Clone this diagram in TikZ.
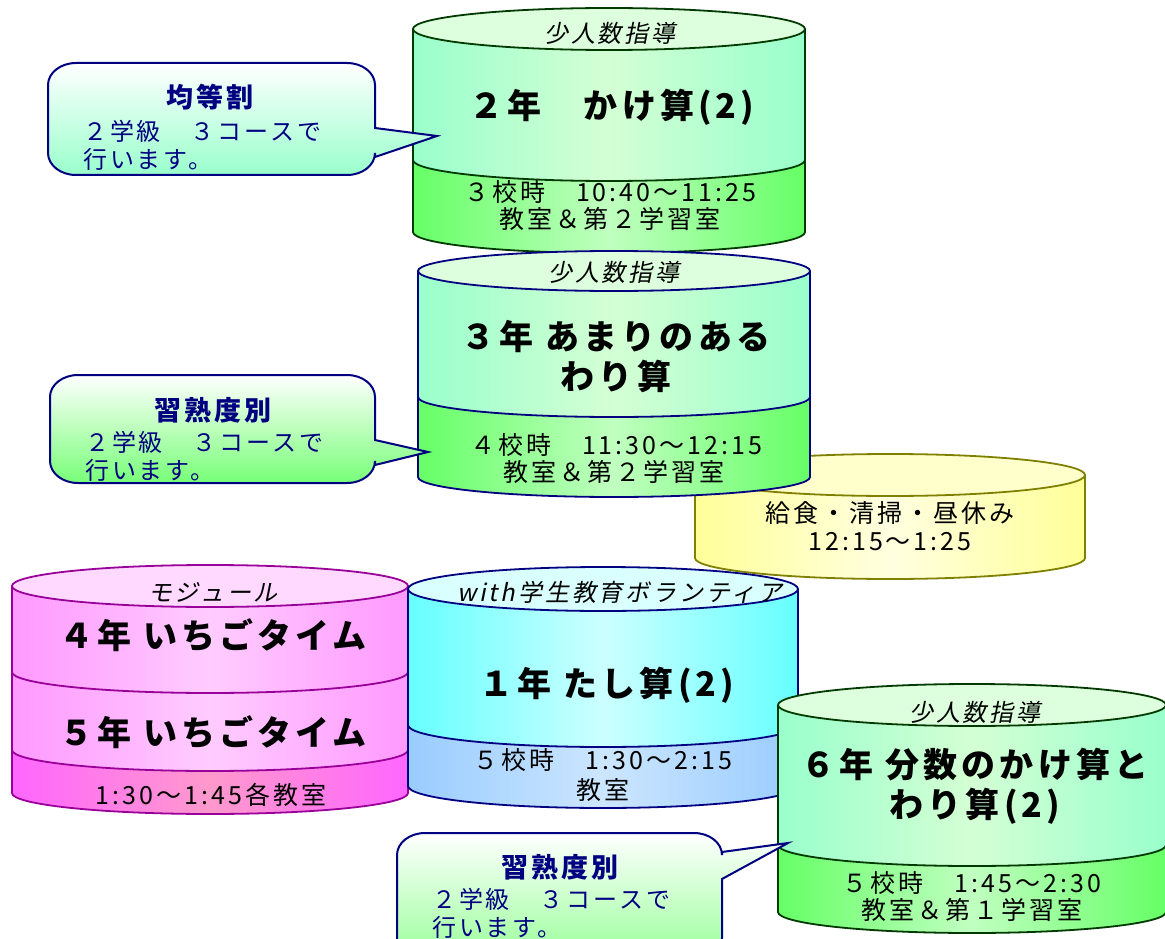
\documentclass[tikz,border=0pt]{standalone}
\usepackage{fontspec}
\setmainfont[LetterSpace=12]{Noto Sans CJK JP}
\newfontfamily\jpit[FakeSlant=0.2,LetterSpace=12]{Noto Sans CJK JP}
\definecolor{gOut}{HTML}{003A00}
\definecolor{nav}{HTML}{000080}
\definecolor{gMidE}{HTML}{99FFCC}
\definecolor{gMidC}{HTML}{D4FFD4}
\definecolor{gTop}{HTML}{DDFFDD}
\definecolor{gBotE}{HTML}{66FF66}
\definecolor{gBotC}{HTML}{C0FFC0}
\definecolor{yOut}{HTML}{808000}
\definecolor{yE}{HTML}{FFFF99}
\definecolor{yC}{HTML}{FFFFE0}
\definecolor{yTop}{HTML}{FFFFCC}
\definecolor{pOut}{HTML}{990099}
\definecolor{pE}{HTML}{FF99FF}
\definecolor{pC}{HTML}{FFCCFF}
\definecolor{pTop}{HTML}{FFD9FF}
\definecolor{pbE}{HTML}{FF66FF}
\definecolor{pbC}{HTML}{FF99CC}
\definecolor{cE}{HTML}{66FFFF}
\definecolor{cC}{HTML}{CCFFFF}
\definecolor{cTop}{HTML}{D9FFFF}
\definecolor{cbE}{HTML}{99CCFF}
\definecolor{cbC}{HTML}{CCE6FF}
\definecolor{k1}{HTML}{99FFCC}
\definecolor{k2}{HTML}{77FF77}
\definecolor{k3}{HTML}{99FF99}
\newcommand\cylband[6]{\path[#6] ({#1-#2},#4) -- ({#1-#2},#5) arc[start angle=180,end angle=360,x radius=#2,y radius=#3] -- ({#1+#2},#4) arc[start angle=0,end angle=-180,x radius=#2,y radius=#3] -- cycle;}
\newcommand\cylside[6]{\draw[#6] ({#1-#2},#4) -- ({#1-#2},#5) arc[start angle=180,end angle=360,x radius=#2,y radius=#3] -- ({#1+#2},#4);}
\newcommand\cyldiv[5]{\draw[#5] ({#1-#2},#4) arc[start angle=180,end angle=360,x radius=#2,y radius=#3];}
\newcommand\cyltop[5]{\draw[#5] (#1,#4) ellipse[x radius=#2,y radius=#3];}
\newcommand\callshape[9]{\path[#9] (#1,{#4+22}) -- (#1,{#3-22}) arc[start angle=180,end angle=90,x radius=28,y radius=22] -- ({#2-28},#3) arc[start angle=90,end angle=0,x radius=28,y radius=22] -- (#2,#5) -- (#7,#8) -- (#2,#6) -- (#2,{#4+22}) arc[start angle=0,end angle=-90,x radius=28,y radius=22] -- ({#1+28},#4) arc[start angle=-90,end angle=-180,x radius=28,y radius=22] -- cycle;}
\tikzset{
  ttl/.style={font=\fontsize{34}{40}\selectfont\bfseries, align=center, inner sep=0pt},
  sub/.style={font=\fontsize{25}{28}\selectfont, inner sep=0pt},
  itl/.style={font=\jpit\fontsize{24}{28}\selectfont, inner sep=0pt},
  ctitle/.style={font=\fontsize{27}{30}\selectfont\bfseries, text=nav, inner sep=0pt},
  cbody/.style={font=\fontsize{24}{28}\selectfont, text=nav, align=left, inner sep=0pt, anchor=west},
  gline/.style={draw=gOut, line width=1.8pt},
  nline/.style={draw=nav, line width=1.8pt},
  yline/.style={draw=yOut, line width=1.8pt},
  pline/.style={draw=pOut, line width=1.8pt},
  callbox/.style={draw=nav, line width=2pt, top color=white},
}
\begin{document}
\begin{tikzpicture}[x=1pt,y=1pt]
\useasboundingbox (0,0) rectangle (1165,-939);
% ---- cylinder 1 : 2nen
\cylband{609}{196}{21}{-29}{-160}{left color=gMidE,right color=gMidE,middle color=gMidC}
\cylband{609}{196}{21}{-160}{-232}{left color=gBotE,right color=gBotE,middle color=gBotC}
\cylside{609}{196}{21}{-29}{-232}{gline}
\cyldiv{609}{196}{21}{-160}{gline}
\cyltop{609}{196}{21}{-29}{gline,fill=gTop}
\node[itl] (c1h) at (610,-33) {少人数指導};
\node[ttl] (c1t) at (612,-107) {２年　かけ算(2)};
\node[sub] (c1a) at (610,-192) {３校時　10:40～11:25};
\node[sub] (c1b) at (610,-219) {教室＆第２学習室};
% ---- cylinder 3 : lunch
\cylband{890}{195}{21}{-475}{-558}{left color=yE,right color=yE,middle color=yC}
\cylside{890}{195}{21}{-475}{-558}{yline}
\cyltop{890}{195}{21}{-475}{yline,fill=yTop}
\node[sub] (c3a) at (890,-513) {給食・清掃・昼休み};
\node[sub] (c3b) at (890,-542) {12:15～1:25};
% ---- cylinder 2 : 3nen
\cylband{614}{196}{20}{-271}{-397}{left color=gMidE,right color=gMidE,middle color=gMidC}
\cylband{614}{196}{20}{-397}{-477}{left color=gBotE,right color=gBotE,middle color=gBotC}
\cylside{614}{196}{20}{-271}{-477}{nline}
\cyldiv{614}{196}{20}{-397}{nline}
\cyltop{614}{196}{20}{-271}{nline,fill=gTop}
\node[itl] (c2h) at (614,-272) {少人数指導};
\node[ttl] (c2t) at (616,-357) {３年 あまりのある\\わり算};
\node[sub] (c2a) at (616,-445) {４校時　11:30～12:15};
\node[sub] (c2b) at (614,-472) {教室＆第２学習室};
% ---- cylinder 4 : module
\cylband{210}{198}{21}{-586}{-672}{left color=pE,right color=pE,middle color=pC}
\cylband{210}{198}{21}{-672}{-750}{left color=pE,right color=pE,middle color=pC}
\cylband{210}{198}{21}{-750}{-793}{left color=pbE,right color=pbE,middle color=pbC}
\cylside{210}{198}{21}{-586}{-793}{pline}
\cyldiv{210}{198}{21}{-672}{pline}
\cyldiv{210}{198}{21}{-750}{pline}
\cyltop{210}{198}{21}{-586}{pline,fill=pTop}
\node[itl] (c4h) at (213,-592) {モジュール};
\node[ttl] (c4t) at (213,-635) {４年 いちごタイム};
\node[ttl] (c4u) at (213,-732) {５年 いちごタイム};
\node[sub] (c4a) at (211,-795) {1:30～1:45各教室};
% ---- cylinder 5 : 1nen
\cylband{603}{195}{22}{-589}{-725}{left color=cE,right color=cE,middle color=cC}
\cylband{603}{195}{22}{-725}{-786}{left color=cbE,right color=cbE,middle color=cbC}
\cylside{603}{195}{22}{-589}{-786}{nline}
\cyldiv{603}{195}{22}{-725}{nline}
\cyltop{603}{195}{22}{-589}{nline,fill=cTop}
\node[itl] (c5h) at (620,-592) {with学生教育ボランティア};
\node[ttl] (c5t) at (607,-685) {１年 たし算(2)};
\node[sub] (c5a) at (603,-760) {５校時　1:30～2:15};
\node[sub] (c5b) at (603,-790) {教室};
% ---- cylinder 6 : 6nen
\cylband{972}{194}{21}{-705}{-845}{left color=gMidE,right color=gMidE,middle color=gMidC}
\cylband{972}{194}{21}{-845}{-912}{left color=gBotE,right color=gBotE,middle color=gBotC}
\cylside{972}{194}{21}{-705}{-912}{gline}
\cyldiv{972}{194}{21}{-845}{gline}
\cyltop{972}{194}{21}{-705}{gline,fill=gTop}
\node[itl] (c6h) at (975,-712) {少人数指導};
\node[ttl] (c6t) at (975,-786) {６年 分数のかけ算と\\わり算(2)};
\node[sub] (c6a) at (972,-883) {５校時　1:45～2:30};
\node[sub] (c6b) at (972,-910) {教室＆第１学習室};
% ---- callouts
\callshape{48}{375}{-63}{-175}{-128}{-157}{437}{-136}{callbox,bottom color=k1}
\node[ctitle] (k1t) at (210,-97) {均等割};
\node[cbody] (k1b) at (83,-145) {２学級　３コースで\\行います。};
\callshape{50}{375}{-375}{-483}{-440}{-465}{428}{-452}{callbox,bottom color=k2}
\node[ctitle] (k2t) at (213,-410) {習熟度別};
\node[cbody] (k2b) at (85,-456) {２学級　３コースで\\行います。};
\callshape{397}{722}{-833}{-960}{-852}{-879}{788}{-843}{callbox,bottom color=k3}
\node[ctitle] (k3t) at (560,-867) {習熟度別};
\node[cbody] (k3b) at (432,-913) {２学級　３コースで\\行います。};
\end{tikzpicture}
\end{document}
